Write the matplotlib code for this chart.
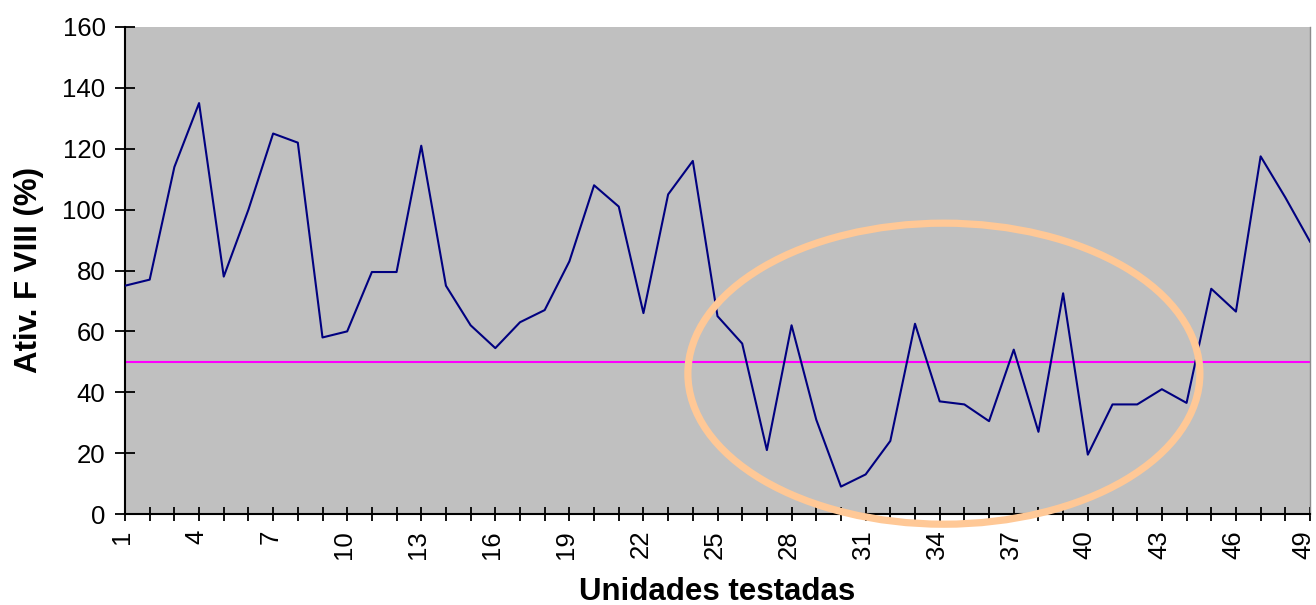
import matplotlib
matplotlib.use("Agg")
import matplotlib.pyplot as plt
import matplotlib.transforms as mtransforms
from matplotlib.patches import Ellipse

plt.rcParams["font.family"] = ["Liberation Sans", "DejaVu Sans"]

# Factor VIII activity (%) per tested unit
units = list(range(1, 50))
fviii = [75, 77, 114, 135, 78, 100, 125, 122, 58, 60,
         79.5, 79.5, 121, 75, 62, 54.5, 63, 67, 83, 108,
         101, 66, 105, 116, 65, 56, 21, 62, 31, 9,
         13, 24, 62.5, 37, 36, 30.5, 54, 27, 72.5, 19.5,
         36, 36, 41, 36.5, 74, 66.5, 117.5, 104, 89.5]
threshold = 50
y_ticks = [0, 20, 40, 60, 80, 100, 120, 140, 160]
x_label_every = 3

# highlighted low-activity region (data coordinates)
region_center = (34.17, 46.1)
region_width = 20.74
region_height = 98.9

W, H = 1316, 605
fig = plt.figure(figsize=(W / 100, H / 100), dpi=100)
fig.patch.set_facecolor("white")
ax = fig.add_axes([125 / W, (H - 514) / H, 1185 / W, 487 / H])
ax.set_facecolor("#c0c0c0")

ax.plot(units, fviii, color="#000080", lw=1.5, zorder=3)
ax.axhline(threshold, color="#ff00ff", lw=1.5, zorder=2)

ax.set_xlim(1, 49)
ax.set_ylim(0, 160)
ax.set_xticks(units)
ax.set_xticklabels([str(u) if (u - 1) % x_label_every == 0 else "" for u in units],
                   rotation=90)
ax.set_yticks(y_ticks)

ax.tick_params(axis="y", direction="inout", length=14, width=1.3, pad=7,
               labelsize=18.5, colors="black")
ax.tick_params(axis="x", direction="inout", length=10, width=1.3, pad=6.5,
               labelsize=18.5, colors="black")

# nudge the rotated unit labels slightly left of their ticks;
# the last one a little more so it stays inside the figure
labels = ax.get_xticklabels()
for i, lab in enumerate(labels):
    dx = -7 if i == len(labels) - 1 else -3
    shift = mtransforms.ScaledTranslation(dx / 100, 0, fig.dpi_scale_trans)
    lab.set_transform(lab.get_transform() + shift)

for side in ("left", "bottom"):
    ax.spines[side].set_linewidth(1.5)
    ax.spines[side].set_color("black")
ax.spines["top"].set_visible(False)
ax.spines["right"].set_color("#8c8c8c")
ax.spines["right"].set_linewidth(1)

ring = Ellipse(region_center, region_width, region_height, fill=False,
               ec="#ffc896", lw=5.2, zorder=6, clip_on=False)
ax.add_patch(ring)

fig.text(717.5 / W, 5 / H, "Unidades testadas", ha="center", va="baseline",
         fontsize=22.5, fontweight="bold")
fig.text(37 / W, (H - 270) / H, "Ativ. F VIII (%)", rotation=90,
         rotation_mode="anchor", ha="center", va="baseline",
         fontsize=22.5, fontweight="bold")

fig.savefig("out.png", dpi=100)
